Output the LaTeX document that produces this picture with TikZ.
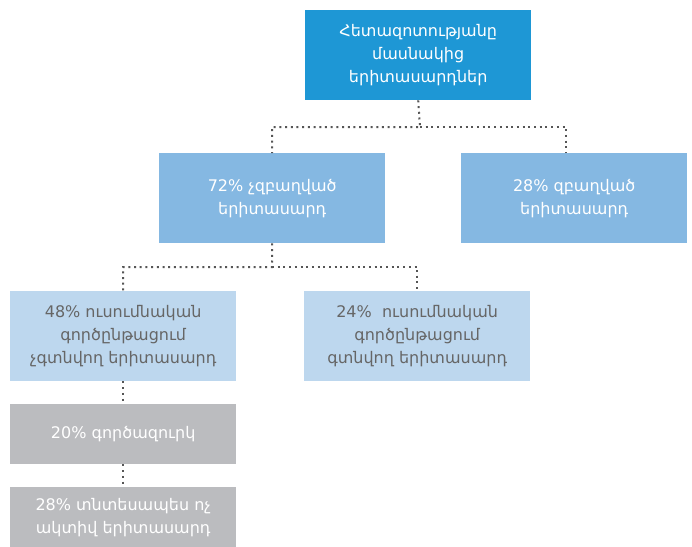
\documentclass[tikz,border=0pt]{standalone}
\usepackage{fontspec}
\setmainfont{DejaVu Sans}
\definecolor{cTop}{RGB}{30,151,213}
\definecolor{cMid}{RGB}{133,184,226}
\definecolor{cLow}{RGB}{189,215,238}
\definecolor{cGray}{RGB}{187,188,191}
\definecolor{cText}{RGB}{102,102,102}
\definecolor{cLine}{RGB}{85,85,85}
\begin{document}
\begin{tikzpicture}[x=1pt,y=-1pt,
  box/.style={anchor=north west, minimum width=226pt, minimum height=90pt, inner sep=0pt, align=center, font=\fontsize{16}{23}\selectfont},
  topbox/.style={box, fill=cTop, text=white},
  midbox/.style={box, fill=cMid, text=white},
  lowbox/.style={box, fill=cLow, text=cText},
  graybox/.style={box, fill=cGray, text=white, minimum height=60pt},
  conn/.style={draw=cLine, line width=2pt, dash pattern=on 2pt off 3.7pt}]
\useasboundingbox (0,0) rectangle (692,546);
\node[topbox] (top) at (305,10) {Հետազոտությանը\\մասնակից\\երիտասարդներ};
\node[midbox] (b72) at (159,153) {72\% չզբաղված\\երիտասարդ};
\node[midbox] (b28) at (461,153) {28\% զբաղված\\երիտասարդ};
\node[lowbox] (b48) at (10,291) {48\% ուսումնական\\գործընթացում\\չգտնվող երիտասարդ};
\node[lowbox] (b24) at (304,291) {24\%~ ուսումնական\\գործընթացում\\գտնվող երիտասարդ};
\node[graybox] (b20) at (10,404) {20\% գործազուրկ};
\node[graybox] (bin) at (10,487) {28\% տնտեսապես ոչ\\ակտիվ երիտասարդ};
\coordinate (j1) at (420,127);
\coordinate (r28) at (566,153);
\coordinate (j2) at (272,267);
\draw[conn] (top.south) -- (j1) -| (b72.north);
\draw[conn] (j1) -| (r28);
\draw[conn] (b72.south) -- (j2) -| (b48.north);
\draw[conn] (j2) -| (b24.north);
\draw[conn] (b48.south) -- (b20.north);
\draw[conn] (b20.south) -- (bin.north);
\end{tikzpicture}
\end{document}
